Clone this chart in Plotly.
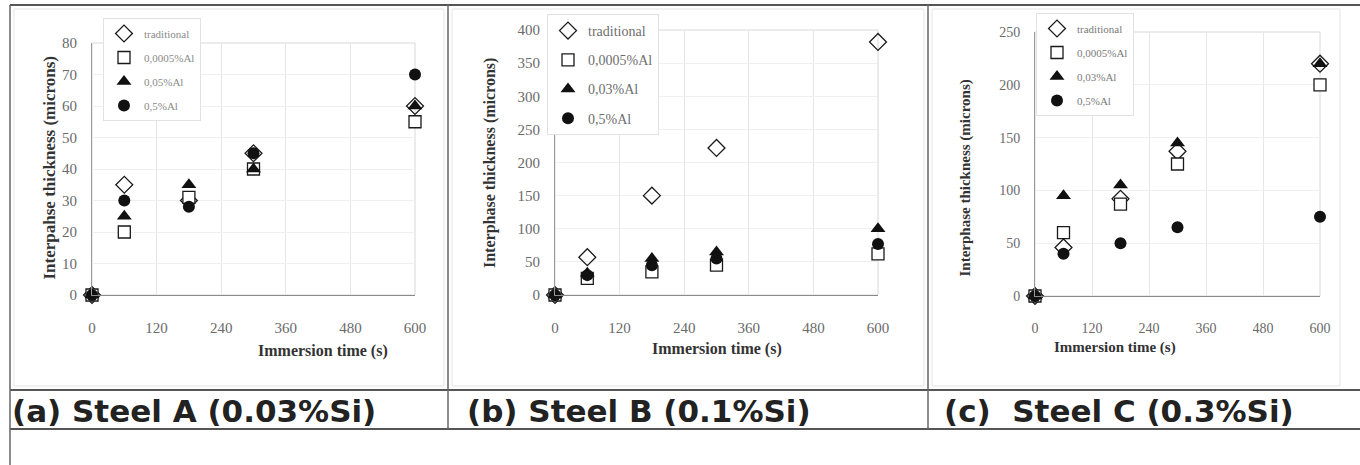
import plotly.graph_objects as go

W, H = 1360, 465

times = [0, 60, 180, 300, 600]
series_names_a = ["traditional", "0,0005%Al", "0,05%Al", "0,5%Al"]
series_names_bc = ["traditional", "0,0005%Al", "0,03%Al", "0,5%Al"]

# Steel A (0.03%Si)
a_traditional = [0, 35, 30, 45, 60]
a_al0005 = [0, 20, 31, 40, 55]
a_al005 = [0, 25, 35, 40, 60]
a_al05 = [0, 30, 28, 45, 70]

# Steel B (0.1%Si)
b_traditional = [0, 57, 150, 222, 382]
b_al0005 = [0, 25, 35, 45, 62]
b_al003 = [0, 33, 55, 65, 100]
b_al05 = [0, 30, 45, 55, 77]

# Steel C (0.3%Si)
c_traditional = [0, 46, 92, 137, 220]
c_al0005 = [0, 60, 87, 125, 200]
c_al003 = [0, 95, 105, 145, 220]
c_al05 = [0, 40, 50, 65, 75]

x_ticks = [0, 120, 240, 360, 480, 600]
captions = ["(a) Steel A (0.03%Si)", "(b) Steel B (0.1%Si)", "(c)  Steel C (0.3%Si)"]
y_titles = ["Interpahse thickness (microns)", "Interphase thickness (microns)",
            "Interphase thickness (microns)"]
x_title = "Immersion time (s)"

def px(x):
    return x / W

def py(y):
    return 1 - y / H

panels = [
    dict(names=series_names_a, data=[a_traditional, a_al0005, a_al005, a_al05],
         x0=92, x1=415, top=43, bot=295, ymax=80, dtick=10,
         legend=dict(x=103, y=18, size=11, gap=5, color="#8a8a8a"),
         ytitle=dict(x=37, y=168, size=17), xtitle=dict(x=256, y=362, size=16),
         tick=15, caption_x=10),
    dict(names=series_names_bc, data=[b_traditional, b_al0005, b_al003, b_al05],
         x0=555, x1=878, top=30, bot=295, ymax=400, dtick=50,
         legend=dict(x=547, y=14, size=14, gap=8, color="#6e6e6e"),
         ytitle=dict(x=490, y=163, size=16), xtitle=dict(x=717, y=360, size=16),
         tick=15, caption_x=465),
    dict(names=series_names_bc, data=[c_traditional, c_al0005, c_al003, c_al05],
         x0=1035, x1=1320, top=32, bot=296, ymax=250, dtick=50,
         legend=dict(x=1036, y=13, size=11, gap=5, color="#7a7a7a"),
         ytitle=dict(x=975, y=178, size=15), xtitle=dict(x=1178, y=358, size=15),
         tick=14, caption_x=942),
]

marker_styles = [
    dict(symbol="diamond-open", size=13, color="#1a1a1a", line=dict(width=1.3, color="#1a1a1a")),
    dict(symbol="square", size=12, color="white", line=dict(width=1.3, color="#1a1a1a")),
    dict(symbol="triangle-up", size=13, color="#111111", line=dict(width=0, color="#111111")),
    dict(symbol="circle", size=12, color="#111111", line=dict(width=0, color="#111111")),
]

fig = go.Figure()
layout = dict(
    width=W, height=H, margin=dict(l=0, r=0, t=0, b=0, pad=0, autoexpand=False),
    paper_bgcolor="white", plot_bgcolor="white", showlegend=True,
)
shapes = []
annotations = []

for i, p in enumerate(panels):
    k = "" if i == 0 else str(i + 1)
    xa, ya = "xaxis" + k, "yaxis" + k
    leg = "legend" + k
    for j, (name, vals) in enumerate(zip(p["names"], p["data"])):
        fig.add_trace(go.Scatter(
            x=times, y=vals, mode="markers", name=name,
            marker=marker_styles[j], cliponaxis=False,
            xaxis="x" + k, yaxis="y" + k, legend=leg,
            legendgroup=f"p{i}s{j}",
        ))
    layout[xa] = dict(
        domain=[px(p["x0"]), px(p["x1"])], range=[0, 600], anchor="y" + k,
        tickvals=x_ticks, showgrid=True, gridcolor="#e6e6e6", gridwidth=1,
        zeroline=False, showline=True, linecolor="#8a8a8a", linewidth=1.2,
        ticks="", ticklabelstandoff=19, automargin=False,
        tickfont=dict(family="Liberation Serif", size=p["tick"], color="#6a6a6a"),
    )
    layout[ya] = dict(
        domain=[py(p["bot"]), py(p["top"])], range=[0, p["ymax"]], anchor="x" + k,
        dtick=p["dtick"], showgrid=True, gridcolor="#efefef", gridwidth=1,
        zeroline=False, showline=True, linecolor="#9a9a9a", linewidth=1,
        ticks="", ticklabelstandoff=11, automargin=False,
        tickfont=dict(family="Liberation Serif", size=p["tick"], color="#6a6a6a"),
    )
    lg = p["legend"]
    layout[leg] = dict(
        x=px(lg["x"]), y=py(lg["y"]), xanchor="left", yanchor="top",
        bgcolor="white", bordercolor="#e2e2e2", borderwidth=1,
        font=dict(family="Liberation Serif", size=lg["size"], color=lg["color"]),
        tracegroupgap=lg["gap"], itemwidth=30,
    )
    shapes.append(dict(type="rect", xref=f"x{k} domain", yref=f"y{k} domain",
                       x0=0, x1=1, y0=0, y1=1, line=dict(color="#d8d8d8", width=1),
                       layer="below"))
    annotations.append(dict(
        x=px(p["ytitle"]["x"]), y=py(p["ytitle"]["y"]), xref="paper", yref="paper",
        text="<b>" + y_titles[i] + "</b>", textangle=-90, showarrow=False,
        font=dict(family="Liberation Serif", size=p["ytitle"]["size"], color="#333333"),
    ))
    annotations.append(dict(
        x=px(p["xtitle"]["x"]), y=py(p["xtitle"]["y"]), xref="paper", yref="paper",
        text="<b>" + x_title + "</b>", showarrow=False,
        font=dict(family="Liberation Serif", size=p["xtitle"]["size"], color="#333333"),
    ))
    annotations.append(dict(
        x=px(p["caption_x"]), y=py(411), xref="paper", yref="paper",
        xanchor="left", yanchor="middle", text="<b>" + captions[i] + "</b>",
        showarrow=False,
        font=dict(family="DejaVu Sans", size=31, color="#222222"),
    ))

frame = [
    (10, 5, 1360, 5, "#555555", 2),
    (10, 390, 1360, 390, "#555555", 2),
    (10, 429, 1360, 429, "#555555", 2),
    (10, 5, 10, 465, "#666666", 1.5),
    (448, 5, 448, 429, "#666666", 1.5),
    (928, 5, 928, 429, "#666666", 1.5),
]
for x0, y0, x1, y1, c, w in frame:
    shapes.append(dict(type="line", xref="paper", yref="paper",
                       x0=px(x0), y0=py(y0), x1=px(x1), y1=py(y1),
                       line=dict(color=c, width=w)))
for x0, x1 in [(14, 444), (452, 924), (932, 1340)]:
    shapes.append(dict(type="rect", xref="paper", yref="paper",
                       x0=px(x0), x1=px(x1), y0=py(386), y1=py(9),
                       line=dict(color="#e4e4e4", width=1), layer="below"))

layout["shapes"] = shapes
layout["annotations"] = annotations
fig.update_layout(**layout)
fig.write_html("out.html", config={"displayModeBar": False},
               post_script="document.body.style.margin='0px';document.body.style.overflow='hidden';")
